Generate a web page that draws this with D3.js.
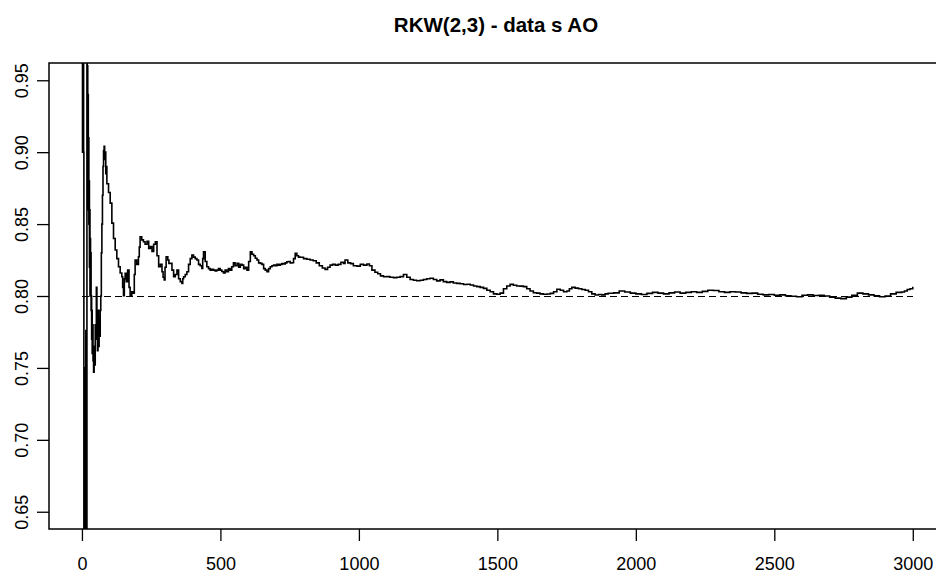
<!DOCTYPE html>
<html>
<head>
<meta charset="utf-8">
<script src="https://cdn.jsdelivr.net/npm/d3@7"></script>
<style>
  body { margin: 0; background: #fff; }
  svg { display: block; }
  text { font-family: "Liberation Sans", Arial, sans-serif; fill: #000; }
</style>
</head>
<body>
<svg width="936" height="575"></svg>
<script>
// data: running estimate vs. iteration
const chartTitle = "RKW(2,3) - data s AO";
const trueValue = 0.8;
const nIter = 3000;
const xTicks = [0, 500, 1000, 1500, 2000, 2500, 3000];
const yTicks = [0.65, 0.70, 0.75, 0.80, 0.85, 0.90, 0.95];

const iterations = [
  1,2,3,4,5,6,7,8,9,10,11,12,13,14,15,16,17,18,19,20,21,22,23,24,25,26,27,28,29,30,
  31,32,33,34,35,36,37,38,40,42,44,46,48,50,52,54,56,58,60,62,64,66,68,70,72,74,76,78,80,
  82,84,86,88,90,96,102,108,114,120,126,132,138,144,147,150,153,156,160,165,170,174,180,186,189,
  192,198,204,207,210,216,222,228,235,241,247,253,259,265,271,277,283,289,293,297,
  300,304,310,314,319,325,331,337,343,349,355,361,364,367,373,379,385,391,397,403,
  409,415,421,427,433,436,439,445,451,457,463,469,475,481,487,493,499,505,511,517,
  523,529,535,541,547,553,560,566,572,578,584,590,596,602,608,614,620,626,632,638,
  644,650,656,662,668,674,680,686,692,698,704,710,716,722,728,734,740,746,752,758,
  764,770,776,782,788,800,812,824,835,846,857,868,878,887,896,905,915,925,935,944,
  950,960,970,980,993,1005,1017,1029,1038,1047,1058,1068,1078,1089,1100,1112,1125,1137,1149,1161,
  1173,1185,1197,1209,1221,1233,1245,1257,1269,1281,1293,1305,1317,1329,1341,1354,1366,1378,1390,1402,
  1414,1426,1438,1450,1462,1474,1486,1498,1510,1522,1534,1546,1558,1570,1582,1594,1606,1618,1630,1642,
  1654,1666,1679,1691,1703,1715,1727,1739,1751,1760,1769,1781,1793,1805,1817,1829,1841,1853,1865,1877,
  1889,1900,1920,1940,1960,1980,2000,2020,2040,2060,2080,2100,2120,2140,2160,2180,2200,2220,2240,2260,
  2280,2300,2320,2340,2360,2380,2400,2420,2440,2460,2480,2500,2520,2540,2560,2580,2600,2620,2640,2660,
  2680,2700,2720,2740,2760,2780,2800,2820,2840,2860,2880,2900,2920,2940,2960,2970,2980,2990,3000
];
const estimates = [
  1.00,0.90,1.00,0.92,0.98,0.90,0.55,0.62,0.58,0.70,0.60,0.75,0.62,0.776,0.64,0.72,0.60,0.97,0.93,0.96,0.90,0.94,0.86,0.91,0.85,0.88,0.82,0.86,0.80,0.84,
  0.81,0.83,0.79,0.80,0.77,0.79,0.76,0.78,0.755,0.747,0.765,0.752,0.78,0.77,0.806,0.78,0.762,0.79,0.765,0.785,0.772,0.79,0.80,0.83,0.85,0.87,0.89,0.901,0.904,
  0.895,0.90,0.885,0.89,0.878,0.872,0.8646,0.8507,0.840,0.832,0.826,0.8203,0.816,0.8134,0.806,0.8002,0.812,0.8157,0.810,0.818,0.806,0.800,0.803,0.802,0.815,
  0.825,0.822,0.8273,0.834,0.8412,0.839,0.8377,0.836,0.838,0.833,0.8343,0.831,0.836,0.8377,0.828,0.8203,0.822,0.8169,0.813,0.8111,
  0.820,0.8273,0.825,0.8227,0.8227,0.818,0.8134,0.815,0.818,0.812,0.810,0.8088,0.812,0.8134,0.815,0.8169,0.822,0.826,0.8285,0.827,
  0.826,0.825,0.822,0.821,0.8192,0.826,0.8308,0.824,0.8203,0.819,0.818,0.8185,0.818,0.8175,0.818,0.819,0.818,0.817,0.816,0.818,
  0.8169,0.819,0.818,0.8203,0.823,0.821,0.8227,0.820,0.822,0.8215,0.819,0.820,0.818,0.824,0.8308,0.829,0.828,0.8262,0.825,0.823,
  0.8227,0.822,0.819,0.818,0.8169,0.819,0.8203,0.821,0.8215,0.821,0.822,0.8215,0.822,0.8225,0.8222,0.823,0.8238,0.824,0.823,0.8231,
  0.826,0.8297,0.828,0.827,0.8269,0.826,0.8255,0.825,0.8245,0.823,0.821,0.8195,0.8185,0.820,0.8215,0.822,0.8215,0.822,0.8235,0.8227,
  0.825,0.823,0.8225,0.821,0.8208,0.822,0.8215,0.8222,0.821,0.818,0.8165,0.8155,0.814,0.8134,0.8135,0.813,0.8128,0.813,0.8135,0.815,
  0.813,0.8115,0.811,0.8106,0.811,0.8115,0.812,0.8123,0.8115,0.8105,0.8112,0.810,0.8095,0.8098,0.809,0.8088,0.8085,0.808,0.8082,0.8076,
  0.807,0.8065,0.806,0.8053,0.804,0.803,0.8015,0.8012,0.802,0.805,0.807,0.8081,0.8075,0.807,0.8069,0.8065,0.805,0.8035,0.8023,0.802,
  0.8015,0.8012,0.8014,0.8018,0.803,0.8047,0.804,0.803,0.8035,0.805,0.806,0.8055,0.805,0.8045,0.804,0.803,0.8015,0.8007,0.801,0.8008,
  0.8015,0.8019,0.8022,0.8035,0.8028,0.802,0.8015,0.801,0.8018,0.8025,0.802,0.8015,0.8022,0.8028,0.802,0.8025,0.803,0.8025,0.8032,0.804,
  0.8038,0.803,0.8025,0.803,0.8028,0.8022,0.8018,0.802,0.8012,0.8008,0.801,0.8005,0.8008,0.8002,0.7998,0.7995,0.8005,0.8008,0.8003,0.8005,
  0.800,0.7992,0.7985,0.7982,0.7992,0.8005,0.802,0.8015,0.8008,0.8002,0.7995,0.800,0.8015,0.8025,0.8028,0.8035,0.8045,0.805,0.8065
];

const svg = d3.select("svg");
// plot region (R style, 4% padding each side; right edge falls off the canvas)
const plotLeft = 49, plotTop = 63, plotRight = 946, plotBottom = 529;

const x = d3.scaleLinear()
  .domain([1 - 0.04 * (nIter - 1), nIter + 0.04 * (nIter - 1)])
  .range([plotLeft, plotRight]);
const ySpan = yTicks[yTicks.length - 1] - yTicks[0];
const y = d3.scaleLinear()
  .domain([yTicks[0] - 0.04 * ySpan, yTicks[yTicks.length - 1] + 0.04 * ySpan])
  .range([plotBottom, plotTop]);

svg.append("defs").append("clipPath").attr("id", "plotclip")
  .append("rect")
  .attr("x", plotLeft).attr("y", plotTop)
  .attr("width", plotRight - plotLeft).attr("height", plotBottom - plotTop);

const plot = svg.append("g").attr("clip-path", "url(#plotclip)");

let series = iterations.map((d, i) => [d, estimates[i]]);
let line = d3.line().curve(d3.curveStepAfter).x(d => x(d[0])).y(d => y(d[1]));

plot.append("path")
  .datum(series)
  .attr("d", line)
  .attr("fill", "none")
  .attr("stroke", "#000")
  .attr("stroke-width", 1.6)
  .attr("stroke-linejoin", "miter");

// reference line at the true value
plot.append("line")
  .attr("x1", x(1)).attr("x2", x(nIter))
  .attr("y1", y(trueValue) + 0.5).attr("y2", y(trueValue) + 0.5)
  .attr("stroke", "#000")
  .attr("stroke-width", 1)
  .attr("shape-rendering", "crispEdges")
  .attr("stroke-dasharray", "7,4");

// box
svg.append("rect")
  .attr("x", plotLeft).attr("y", plotTop)
  .attr("width", plotRight - plotLeft).attr("height", plotBottom - plotTop)
  .attr("fill", "none")
  .attr("stroke", "#000")
  .attr("stroke-width", 1.5);

// x axis
let xAxis = d3.axisBottom(x).tickValues(xTicks).tickSize(12).tickPadding(16).tickFormat(d3.format("d"));
let gx = svg.append("g").attr("transform", `translate(0, ${plotBottom})`).call(xAxis);
gx.select(".domain").remove();
gx.selectAll(".tick line").attr("stroke", "#000").attr("stroke-width", 1.3);
gx.selectAll(".tick text").attr("font-size", 18).attr("font-family", "Liberation Sans, Arial, sans-serif");

// y axis with rotated labels
let yAxis = d3.axisLeft(y).tickValues(yTicks).tickSize(12).tickFormat(d3.format(".2f"));
let gy = svg.append("g").attr("transform", `translate(${plotLeft}, 0)`).call(yAxis);
gy.select(".domain").remove();
gy.selectAll(".tick line").attr("stroke", "#000").attr("stroke-width", 1.3);
gy.selectAll(".tick text")
  .attr("font-size", 18)
  .attr("font-family", "Liberation Sans, Arial, sans-serif")
  .attr("text-anchor", "middle")
  .attr("dy", null)
  .attr("x", null)
  .attr("transform", "translate(-21, 0) rotate(-90)");

// title
svg.append("text")
  .attr("x", 496).attr("y", 32)
  .attr("text-anchor", "middle")
  .attr("font-size", 20.5)
  .attr("font-weight", "bold")
  .text(chartTitle);
</script>
</body>
</html>
